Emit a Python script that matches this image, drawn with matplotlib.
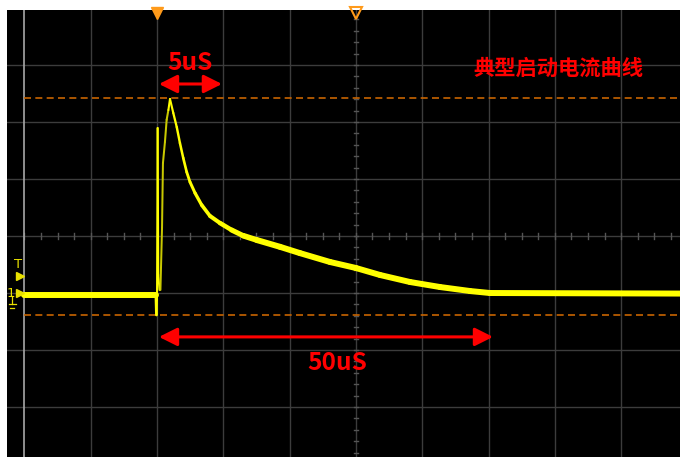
import numpy as np
import matplotlib
matplotlib.use("Agg")
import matplotlib.pyplot as plt
from matplotlib.collections import LineCollection
from matplotlib.patches import FancyArrowPatch

plt.rcParams['font.family'] = ['Noto Sans CJK SC', 'DejaVu Sans']

# trace: time in us (5 us/div), amplitude in divisions
t_us = [-10.0, -0.08, -0.04, 0.0, 0.05, 0.10, 0.19, 0.26, 0.38, 0.45, 0.60,
        0.73, 0.86, 0.98, 1.23, 1.49, 1.73, 1.98, 2.24, 2.49, 2.87, 3.37,
        4.00, 4.75, 5.63, 6.51, 7.52, 9.28, 10.78, 13.05, 15.0, 16.82, 19.08,
        21.34, 23.6, 25.1, 39.5]
amp_div = [-1.035, -1.035, -1.386, -1.12, 1.895, -0.684, -0.947, -0.947, 0.14,
           1.28, 1.65, 2.04, 2.21, 2.404, 2.158, 1.912, 1.632, 1.368, 1.123,
           0.947, 0.754, 0.544, 0.351, 0.228, 0.105, 0.005, -0.07, -0.19,
           -0.30, -0.456, -0.561, -0.684, -0.807, -0.895, -0.965, -1.0, -1.01]

cursor_levels = [2.42, -1.386]       # orange dashed cursors
label_5us = "5uS"
label_50us = "50uS"
title_cn = "典型启动电流曲线"
span_5us = [0.15, 4.9]
span_50us = [0.15, 25.34]

yellow = '#ffff00'
orange = '#c86400'
red = '#ff0000'
gridc = '#3c3c3c'

fig = plt.figure(figsize=(6.8, 4.57), dpi=100)
fig.patch.set_facecolor('white')
ax = fig.add_axes([7/680, 0, 673/680, 447/457])
ax.set_facecolor('black')
ax.set_xlim(-11.31, 39.44)
ax.set_ylim(-3.877, 3.965)
ax.set_xticks([])
ax.set_yticks([])
for sp in ax.spines.values():
    sp.set_visible(False)

# graticule
for gx in np.arange(-5, 45, 5):
    ax.axvline(gx, color=gridc, lw=1.0, zorder=1)
for gy in range(-3, 4):
    ax.axhline(gy, color=gridc, lw=1.0, zorder=1)
ax.axvline(-10, color='#a8a8a8', lw=1.2, zorder=2)

# minor ticks on the centre lines
for tx in np.arange(-10, 40, 1.25):
    ax.plot([tx, tx], [-0.045, 0.045], color='#555555', lw=1.0, zorder=1)
for ty in np.arange(-3.8, 4.0, 0.2):
    ax.plot([14.83, 15.17], [ty, ty], color='#555555', lw=1.0, zorder=1)

# cursors
for lvl in cursor_levels:
    ax.plot([-10, 39.44], [lvl, lvl], color=orange, lw=1.2, dashes=(4.2, 2.6), zorder=3)

# trace, thin on the fast edge, thick where the noise band shows
t = np.array(t_us)
a = np.array(amp_div)
pts = np.column_stack([t, a])
segs = np.stack([pts[:-1], pts[1:]], axis=1)
mid = 0.5 * (t[:-1] + t[1:])
widths = np.interp(mid, [-0.1, -0.05, 1.0, 2.3, 3.6, 5.7, 7.5], [4.3, 1.4, 1.5, 2.0, 2.6, 3.5, 4.3])
cols = [('#c8c800' if 0.26 < m < 0.9 else yellow) for m in mid]
lc = LineCollection(segs, colors=cols, linewidths=widths, capstyle='round',
                    joinstyle='round', zorder=4)
ax.add_collection(lc)

# trigger / position markers
ax.plot([0], [3.92], marker='v', ms=9, color='#ff9a1a', mec='#ff9a1a', clip_on=False, zorder=6)
ax.plot([15], [3.92], marker='v', ms=9, mfc='none', mec='#ff9a1a', mew=1.5, clip_on=False, zorder=6)
ax.text(-10.5, -0.5, "T", color='#e8e000', fontsize=9.5, ha='center', va='center',
        family='DejaVu Sans')
ax.plot([-10.3], [-0.70], marker='>', ms=6, color='#e8e000', zorder=6)
ax.text(-11.0, -1.0, "1", color='#e8e000', fontsize=9.5, ha='center', va='center',
        family='DejaVu Sans')
ax.plot([-10.3], [-1.0], marker='>', ms=6, color='#e8e000', zorder=6)
ax.plot([-10.9, -10.9], [-1.05, -1.2], color='#e8e000', lw=0.9)
ax.plot([-11.15, -10.65], [-1.2, -1.2], color='#e8e000', lw=0.9)
ax.plot([-11.05, -10.75], [-1.26, -1.26], color='#e8e000', lw=0.9)

# red annotations
for span, yy in [(span_5us, 2.667), (span_50us, -1.77)]:
    arr = FancyArrowPatch((span[0], yy), (span[1], yy),
                          arrowstyle='<|-|>,head_length=11,head_width=5.5',
                          mutation_scale=1, shrinkA=0, shrinkB=0,
                          color=red, lw=2.2, zorder=7)
    ax.add_patch(arr)

ax.text(2.49, 2.91, label_5us, color=red, fontsize=17.6, weight='bold',
        ha='center', va='baseline', zorder=8)
ax.text(13.6, -2.35, label_50us, color=red, fontsize=17.6, weight='bold',
        ha='center', va='baseline', zorder=8)
ax.text(30.24, 2.95, title_cn, color=red, fontsize=15.3, weight='bold',
        ha='center', va='center', zorder=8)

fig.savefig("out.png", dpi=100, facecolor=fig.get_facecolor())
